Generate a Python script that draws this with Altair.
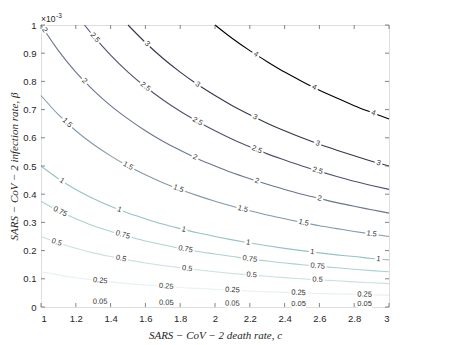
import altair as alt
import pandas as pd
import numpy as np

# ---- data (beta in units of 1e-3) ----
levels = [0.05, 0.25, 0.5, 0.75, 1, 1.5, 2, 2.5, 3, 4]
level_text = ["0.05", "0.25", "0.5", "0.75", "1", "1.5", "2", "2.5", "3", "4"]

x_full = [1.0, 1.1, 1.2, 1.3, 1.4, 1.5, 1.6, 1.7, 1.8, 1.9, 2.0,
          2.1, 2.2, 2.3, 2.4, 2.5, 2.6, 2.7, 2.8, 2.9, 3.0]

y_005 = [0.025, 0.023, 0.021, 0.019, 0.018, 0.017, 0.016, 0.015, 0.014, 0.013, 0.013,
         0.012, 0.011, 0.011, 0.010, 0.010, 0.010, 0.009, 0.009, 0.009, 0.008]
y_025 = [0.125, 0.114, 0.104, 0.096, 0.089, 0.083, 0.078, 0.074, 0.069, 0.066, 0.063,
         0.060, 0.057, 0.054, 0.052, 0.050, 0.048, 0.046, 0.045, 0.043, 0.042]
y_05 = [0.250, 0.227, 0.208, 0.192, 0.179, 0.167, 0.156, 0.147, 0.139, 0.132, 0.125,
        0.119, 0.114, 0.109, 0.104, 0.100, 0.096, 0.093, 0.089, 0.086, 0.083]
y_075 = [0.375, 0.341, 0.313, 0.288, 0.268, 0.250, 0.234, 0.221, 0.208, 0.197, 0.188,
         0.179, 0.170, 0.163, 0.156, 0.150, 0.144, 0.139, 0.134, 0.129, 0.125]
y_1 = [0.500, 0.455, 0.417, 0.385, 0.357, 0.333, 0.313, 0.294, 0.278, 0.263, 0.250,
       0.238, 0.227, 0.217, 0.208, 0.200, 0.192, 0.185, 0.179, 0.172, 0.167]
y_15 = [0.750, 0.682, 0.625, 0.577, 0.536, 0.500, 0.469, 0.441, 0.417, 0.395, 0.375,
        0.357, 0.341, 0.326, 0.313, 0.300, 0.288, 0.278, 0.268, 0.259, 0.250]
y_2 = [1.000, 0.909, 0.833, 0.769, 0.714, 0.667, 0.625, 0.588, 0.556, 0.526, 0.500,
       0.476, 0.455, 0.435, 0.417, 0.400, 0.385, 0.370, 0.357, 0.345, 0.333]

x_25 = [1.25, 1.3, 1.4, 1.5, 1.6, 1.7, 1.8, 1.9, 2.0, 2.1, 2.2, 2.3, 2.4, 2.5, 2.6, 2.7, 2.8, 2.9, 3.0]
y_25 = [1.000, 0.962, 0.893, 0.833, 0.781, 0.735, 0.694, 0.658, 0.625, 0.595, 0.568,
        0.543, 0.521, 0.500, 0.481, 0.463, 0.446, 0.431, 0.417]
x_3 = [1.5, 1.6, 1.7, 1.8, 1.9, 2.0, 2.1, 2.2, 2.3, 2.4, 2.5, 2.6, 2.7, 2.8, 2.9, 3.0]
y_3 = [1.000, 0.938, 0.882, 0.833, 0.789, 0.750, 0.714, 0.682, 0.652, 0.625, 0.600,
       0.577, 0.556, 0.536, 0.517, 0.500]
x_4 = [2.0, 2.1, 2.2, 2.3, 2.4, 2.5, 2.6, 2.7, 2.8, 2.9, 3.0]
y_4 = [1.000, 0.952, 0.909, 0.870, 0.833, 0.800, 0.769, 0.741, 0.714, 0.690, 0.667]

curves_x = [x_full, x_full, x_full, x_full, x_full, x_full, x_full, x_25, x_3, x_4]
curves_y = [y_005, y_025, y_05, y_075, y_1, y_15, y_2, y_25, y_3, y_4]

# x positions of the inline contour labels
label_x = [
    [1.34, 1.72, 2.10, 2.48, 2.86],
    [1.34, 1.72, 2.10, 2.48, 2.86],
    [1.09, 1.46, 1.84, 2.21, 2.59],
    [1.11, 1.47, 1.83, 2.20, 2.59],
    [1.12, 1.45, 1.82, 2.19, 2.56, 2.94],
    [1.15, 1.50, 1.79, 2.16, 2.51, 2.90],
    [1.02, 1.25, 1.885, 2.24, 2.60],
    [1.31, 1.60, 1.90, 2.24, 2.59],
    [1.61, 1.90, 2.23, 2.59, 2.94],
    [2.235, 2.57, 2.91],
]

line_colors = ["#ffffff", "#e6f1f0", "#c9e2e0", "#acd2d0", "#93c4c3",
               "#8299ab", "#69748f", "#4f5073", "#35354d", "#000000"]

x_ticks = [1, 1.2, 1.4, 1.6, 1.8, 2, 2.2, 2.4, 2.6, 2.8, 3]
y_ticks = [0, 0.1, 0.2, 0.3, 0.4, 0.5, 0.6, 0.7, 0.8, 0.9, 1]

W, H = 348, 282

# ---- build tables ----
rows = []
for lt, xs, ys in zip(level_text, curves_x, curves_y):
    for i, (a, b) in enumerate(zip(xs, ys)):
        rows.append({"level": lt, "x": a, "y": b, "i": i})
lines_df = pd.DataFrame(rows)

lab_rows = []
for lt, xs, ys, lxs in zip(level_text, curves_x, curves_y, label_x):
    xs_a, ys_a = np.array(xs), np.array(ys)
    for lx in lxs:
        ly = float(np.interp(lx, xs_a, ys_a))
        h = 0.03
        xa, xb = max(lx - h, xs_a[0]), min(lx + h, xs_a[-1])
        y1 = float(np.interp(xa, xs_a, ys_a))
        y2 = float(np.interp(xb, xs_a, ys_a))
        slope = -(y2 - y1) / (xb - xa)
        ang = np.degrees(np.arctan(slope * H / (W / 2.0)))
        lab_rows.append({"level": lt, "x": lx, "y": ly, "angle": float(ang)})
labels_df = pd.DataFrame(lab_rows)

xs_scale = alt.Scale(domain=[1, 3], nice=False, zero=False)
ys_scale = alt.Scale(domain=[0, 1], nice=False, zero=False)

x_axis = alt.Axis(values=x_ticks, format="~g", grid=False, ticks=False, domain=False,
                  labelFont="Liberation Sans", labelFontSize=9.5, labelColor="#262626",
                  labelPadding=6, title="SARS − CoV − 2  death  rate,   c",
                  titleFont="Liberation Serif", titleFontStyle="italic",
                  titleFontWeight="normal", titleFontSize=11, titleColor="#262626",
                  titlePadding=7)
y_axis = alt.Axis(values=y_ticks, format="~g", grid=False, ticks=False, domain=False,
                  labelFont="Liberation Sans", labelFontSize=9.5, labelColor="#262626",
                  labelPadding=5, title="SARS − CoV − 2  infection  rate,   β",
                  titleFont="Liberation Serif", titleFontStyle="italic",
                  titleFontWeight="normal", titleFontSize=11, titleColor="#262626",
                  titlePadding=3)


def X(field):
    return alt.X(field, scale=xs_scale, axis=x_axis)


def Y(field):
    return alt.Y(field, scale=ys_scale, axis=y_axis)


color_scale = alt.Scale(domain=level_text, range=line_colors)

lines = alt.Chart(lines_df).mark_line(strokeWidth=1.1, interpolate="monotone").encode(
    x=X("x:Q"),
    y=Y("y:Q"),
    color=alt.Color("level:N", scale=color_scale, legend=None),
    order="i:Q",
)

halo = alt.Chart(labels_df).mark_text(
    color="white", stroke="white", strokeWidth=4, fontSize=7.5, font="Liberation Sans"
).encode(
    x=X("x:Q"), y=Y("y:Q"),
    text="level:N",
    angle=alt.Angle("angle:Q", scale=None),
)

texts = alt.Chart(labels_df).mark_text(
    color="#333333", fontSize=7.5, font="Liberation Sans"
).encode(
    x=X("x:Q"), y=Y("y:Q"),
    text="level:N",
    angle=alt.Angle("angle:Q", scale=None),
)

xt = pd.DataFrame({"x": x_ticks})
yt = pd.DataFrame({"y": y_ticks})
tick_style = dict(color="#666666", strokeWidth=0.8)
tb = alt.Chart(xt).mark_rule(**tick_style).encode(
    x=X("x:Q"), y=alt.value(H), y2=alt.value(H - 4))
tt = alt.Chart(xt).mark_rule(**tick_style).encode(
    x=X("x:Q"), y=alt.value(0), y2=alt.value(4))
tl = alt.Chart(yt).mark_rule(**tick_style).encode(
    y=Y("y:Q"), x=alt.value(0), x2=alt.value(4))
tr = alt.Chart(yt).mark_rule(**tick_style).encode(
    y=Y("y:Q"), x=alt.value(W), x2=alt.value(W - 4))

corner = pd.DataFrame({"x": [1.0], "y": [1.0]})
exp_base = alt.Chart(corner).mark_text(
    text="×10", align="left", baseline="bottom", dx=0, dy=-1,
    fontSize=8.5, font="Liberation Sans", color="#262626"
).encode(x=X("x:Q"), y=Y("y:Q"))
exp_pow = alt.Chart(corner).mark_text(
    text="-3", align="left", baseline="bottom", dx=15, dy=-6,
    fontSize=6.5, font="Liberation Sans", color="#262626"
).encode(x=X("x:Q"), y=Y("y:Q"))

chart = alt.layer(lines, halo, texts, tb, tt, tl, tr, exp_base, exp_pow).properties(
    width=W, height=H,
    autosize=alt.AutoSizeParams(type="none"),
    padding={"left": 33, "top": 17, "right": 40, "bottom": 38},
).configure_view(stroke="#808080", strokeWidth=1).configure(background="white")

chart.save("out.html", embed_options={"renderer": "svg", "actions": False})
